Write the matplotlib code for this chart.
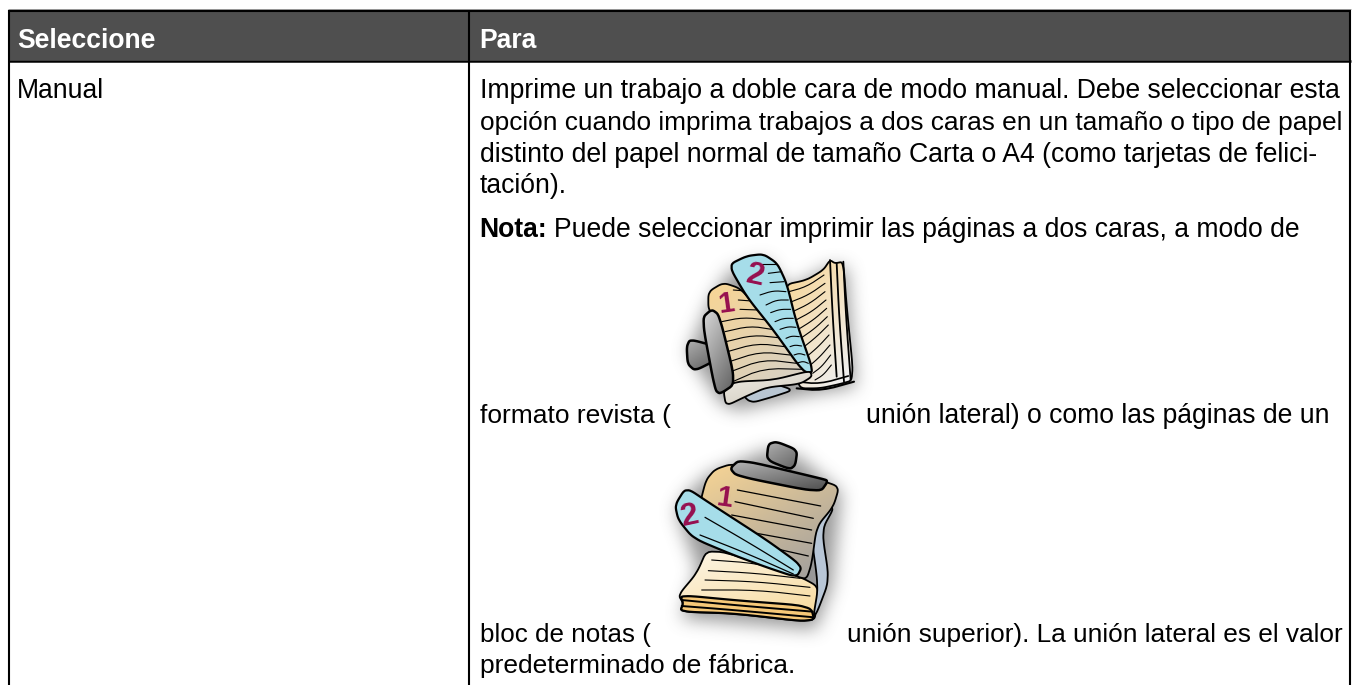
import matplotlib
matplotlib.use("Agg")
import matplotlib.pyplot as plt
from matplotlib.patches import Polygon, Rectangle
from matplotlib.path import Path
import numpy as np

plt.rcParams['font.family'] = ['Liberation Sans', 'DejaVu Sans']

encabezados = ["Seleccione", "Para"]
opcion = "Manual"
nota = "Nota:"
lineas = [
    "Imprime un trabajo a doble cara de modo manual. Debe seleccionar esta",
    "opción cuando imprima trabajos a dos caras en un tamaño o tipo de papel",
    "distinto del papel normal de tamaño Carta o A4 (como tarjetas de felici-",
    "tación).",
    "Puede seleccionar imprimir las páginas a dos caras, a modo de",
    "formato revista (",
    "unión lateral) o como las páginas de un",
    "bloc de notas (",
    "unión superior). La unión lateral es el valor",
    "predeterminado de fábrica.",
]

TAN = "#f8d594"
AZUL = "#a6dde9"
VINO = "#960f4f"
FS = 19.1

# donde va cada linea de texto: x, linea base, tamano
pos_lineas = [(480, 98, 19.15), (480, 130, 18.9), (480, 162, 19.15), (480, 193, 19.1),
              (554, 237, 19.1), (480, 423, 19.0), (866, 423, 19.1), (480, 642, 18.7),
              (847, 642, 18.87), (480, 673, 19.0)]

fig = plt.figure(figsize=(13.54, 6.85), dpi=100)
ax = fig.add_axes([0, 0, 1, 1])
ax.set_xlim(0, 1354)
ax.set_ylim(685, 0)
ax.axis("off")


def suave(puntos, veces=3, c=0.18):
    # recorta esquinas para que el contorno quede curvo
    p = np.array(puntos, dtype=float)
    for _ in range(veces):
        q = (1 - c) * p + c * np.roll(p, -1, axis=0)
        r = c * p + (1 - c) * np.roll(p, -1, axis=0)
        p = np.stack([q, r], axis=1).reshape(-1, 2)
    return p


def a_pix(puntos, org):
    return [(org[0] + x / 3, org[1] + y / 3) for x, y in puntos]


def sombra(puntos, org, dx=1, dy=6, radio=8, alfa=0.7):
    p = np.array(a_pix(puntos, org)) + [dx, dy]
    m = radio * 4
    x0, x1 = int(p[:, 0].min() - m), int(p[:, 0].max() + m)
    y0, y1 = int(p[:, 1].min() - m), int(p[:, 1].max() + m)
    xx, yy = np.meshgrid(np.arange(x0, x1), np.arange(y0, y1))
    mask = Path(p).contains_points(np.c_[xx.ravel(), yy.ravel()]).reshape(xx.shape).astype(float)
    k = np.ones(2 * radio + 1) / (2 * radio + 1)
    for _ in range(3):
        mask = np.apply_along_axis(lambda f: np.convolve(f, k, mode="same"), 0, mask)
        mask = np.apply_along_axis(lambda f: np.convolve(f, k, mode="same"), 1, mask)
    img = np.zeros(mask.shape + (4,))
    img[..., :3] = 0.42
    img[..., 3] = mask * alfa
    ax.imshow(img, extent=(x0, x1, y1, y0), aspect="auto", zorder=2.5, interpolation="bilinear")


def forma(puntos, org, colores, lw=1.3, z=3):
    p = suave(a_pix(puntos, org))
    if isinstance(colores, str):
        ax.add_patch(Polygon(p, closed=True, fc=colores, ec="black", lw=lw, zorder=z))
        return
    # degradado recortado con el contorno
    x0, x1 = p[:, 0].min(), p[:, 0].max()
    y0, y1 = p[:, 1].min(), p[:, 1].max()
    c1 = np.array(matplotlib.colors.to_rgb(colores[0]))
    c2 = np.array(matplotlib.colors.to_rgb(colores[1]))
    t = np.linspace(0, 1, 80)[:, None, None]
    s = np.linspace(0, 1, 80)[None, :, None]
    img = c1 + (c2 - c1) * (0.6 * t + 0.4 * s)
    im = ax.imshow(img, extent=(x0, x1, y1, y0), aspect="auto", zorder=z)
    pg = Polygon(p, closed=True, fc="none", ec="black", lw=lw, zorder=z + 0.1)
    ax.add_patch(pg)
    im.set_clip_path(pg)


def raya(puntos, org, lw=0.8, z=4, color="black"):
    p = np.array(a_pix(puntos, org))
    for _ in range(2):
        nuevo = [p[0]]
        for a, b in zip(p[:-1], p[1:]):
            nuevo += [0.75 * a + 0.25 * b, 0.25 * a + 0.75 * b]
        nuevo.append(p[-1])
        p = np.array(nuevo)
    ax.plot(p[:, 0], p[:, 1], color=color, lw=lw, solid_capstyle="round", zorder=z)


# ---- tabla
ax.add_patch(Rectangle((8, 10), 1342, 50, fc="#4f4f4f", ec="none", zorder=1))
ax.plot([8, 1351], [9.3, 9.3], color="#9a9a9a", lw=0.7, zorder=2, solid_capstyle="butt")
ax.plot([8, 1351], [11, 11], color="black", lw=1.5, zorder=2, solid_capstyle="butt")
ax.plot([8, 1351], [60.5, 60.5], color="black", lw=1.8, zorder=2, solid_capstyle="butt")
for xl in [8.5, 468.5, 1350]:
    ax.plot([xl, xl], [10, 685], color="black", lw=1.5, zorder=2, solid_capstyle="butt")

ax.text(17, 47.5, encabezados[0], color="white", fontsize=FS, weight="bold", va="baseline")
ax.text(479, 47.5, encabezados[1], color="white", fontsize=FS, weight="bold", va="baseline")
ax.text(17, 98, opcion, color="black", fontsize=FS, va="baseline")
ax.text(479, 237, nota, color="black", fontsize=FS, weight="bold", va="baseline")
for txt, (x, y, fs) in zip(lineas, pos_lineas):
    ax.text(x, y, txt, color="black", fontsize=fs, va="baseline")

# ---- revista (union lateral)
o1 = (640, 240)
sombra([(140, 320), (210, 160), (265, 75), (370, 42), (440, 130), (570, 60), (615, 65), (642, 420),
        (490, 445), (290, 490), (240, 470)], o1)
forma([(430, 135), (500, 120), (550, 90), (570, 60), (585, 70), (610, 65), (620, 200), (642, 420),
       (600, 432), (540, 445), (470, 445), (470, 300)], o1, (TAN, "#eef1f8"), z=3)
for l in [[(570, 60), (578, 230), (590, 410)], [(590, 70), (598, 240), (612, 425)], [(610, 65), (618, 230), (632, 420)]]:
    raya(l, o1, lw=1.3)
raya([(470, 425), (540, 432), (625, 408)], o1, lw=1.2)
raya([(470, 445), (545, 452), (642, 425)], o1, lw=1.5)
for l in [[(440, 157), (500, 140), (552, 105)], [(450, 187), (505, 165), (555, 130)],
          [(460, 214), (510, 190), (555, 155)], [(468, 240), (515, 215), (558, 180)],
          [(475, 268), (520, 240), (560, 205)], [(482, 295), (525, 265), (562, 230)],
          [(490, 322), (530, 290), (565, 255)], [(500, 350), (535, 320), (567, 285)],
          [(508, 378), (540, 350), (570, 315)], [(518, 400), (545, 380), (572, 345)],
          [(525, 420), (550, 405), (574, 375)]]:
    raya(l, o1)
forma([(290, 440), (400, 430), (460, 450), (400, 470), (330, 490)], o1, "#b9c6d2", z=4)
forma([(205, 155), (250, 128), (300, 145), (345, 195), (400, 260), (500, 392), (512, 405), (480, 422),
       (400, 425), (340, 442), (290, 470), (265, 470), (250, 440), (240, 250), (205, 210)], o1,
      (TAN, "#d2d0cc"), z=5)
for l in [[(280, 150), (305, 152)], [(295, 180), (335, 183)], [(300, 208), (355, 210)],
          [(245, 245), (310, 232), (380, 240)], [(255, 275), (330, 258), (395, 268)],
          [(258, 305), (340, 285), (415, 293)], [(262, 335), (350, 310), (435, 320)],
          [(268, 365), (360, 335), (450, 345)], [(272, 395), (370, 358), (470, 370)],
          [(278, 425), (370, 385), (490, 388)]]:
    raya(l, o1, z=6)
ax.text(*a_pix([(258, 219)], o1)[0], "1", color=VINO, fontsize=21, weight="bold", ha="center",
        va="baseline", rotation=8, zorder=7)
forma([(265, 75), (320, 48), (370, 42), (412, 70), (440, 130), (470, 250), (522, 398), (490, 396),
       (400, 270), (320, 170)], o1, AZUL, lw=1.6, z=8)
for l in [[(365, 72), (412, 72)], [(385, 100), (425, 95)], [(390, 128), (432, 125)],
          [(360, 165), (400, 152), (438, 155)], [(378, 195), (410, 180), (445, 180)],
          [(392, 218), (420, 208), (452, 208)], [(405, 245), (430, 235), (460, 235)],
          [(420, 268), (445, 260), (468, 262)], [(438, 295), (455, 288), (478, 290)],
          [(450, 320), (465, 315), (485, 318)], [(462, 345), (478, 340), (495, 345)],
          [(475, 368), (490, 364), (505, 370)]]:
    raya(l, o1, z=9)
ax.text(*a_pix([(345, 137)], o1)[0], "2", color=VINO, fontsize=23, weight="bold", ha="center",
        va="baseline", rotation=-12, zorder=10)
forma([(250, 450), (285, 425), (400, 420), (510, 392), (516, 410), (480, 432), (380, 442), (320, 468),
       (258, 498)], o1, ("#efece4", "#cfc9bd"), z=11)
forma([(140, 320), (150, 298), (225, 318), (225, 362), (165, 392), (143, 372)], o1, ("#b0b0b0", "#5f5f5f"),
      lw=1.8, z=12)
forma([(185, 235), (215, 208), (238, 225), (288, 430), (240, 462), (225, 450)], o1, ("#d8d8d8", "#5f5f5f"),
      lw=1.8, z=13)

# ---- bloc de notas (union superior)
o2 = (600, 430)
sombra([(225, 225), (258, 172), (320, 115), (500, 40), (590, 60), (718, 170), (690, 450), (642, 578),
        (240, 545), (290, 400)], o2)
forma([(325, 350), (600, 440), (655, 470), (650, 530), (642, 578), (400, 550), (240, 545), (250, 520),
       (235, 495), (290, 430)], o2, ("#fdf6e6", "#f8d99a"), z=3)
forma([(240, 495), (420, 512), (632, 528), (645, 578), (400, 550), (240, 545), (250, 520)], o2, "#f6c878", z=3.5, lw=1.6)
for l in [[(245, 510), (400, 525), (638, 545)], [(245, 528), (400, 540), (642, 562)]]:
    raya(l, o2, lw=1.4)
for l in [[(335, 390), (470, 400), (590, 430)], [(325, 422), (470, 430), (600, 445)],
          [(315, 450), (470, 455), (630, 472)], [(305, 480), (470, 480), (630, 498)]]:
    raya(l, o2, z=3.4)
forma([(650, 240), (705, 228), (665, 300), (688, 450), (652, 545), (640, 560), (655, 470), (630, 290)], o2,
      "#b8c6d6", z=4)
forma([(345, 118), (400, 100), (660, 150), (718, 170), (700, 230), (650, 290), (635, 400), (620, 447),
       (590, 440), (320, 290), (300, 220), (318, 150)], o2, (TAN, "#9c9c9f"), z=5)
for l in [[(412, 180), (662, 228)], [(405, 215), (640, 265)], [(395, 255), (635, 300)],
          [(470, 310), (635, 340)], [(500, 350), (625, 378)]]:
    raya(l, o2, lw=0.9, z=6)
ax.text(*a_pix([(372, 232)], o2)[0], "1", color=VINO, fontsize=21, weight="bold", ha="center",
        va="baseline", rotation=-8, zorder=7)
forma([(258, 172), (330, 220), (500, 330), (607, 408), (590, 442), (500, 412), (400, 375), (280, 325),
       (235, 270), (225, 225)], o2, AZUL, lw=1.6, z=8)
for l in [[(315, 262), (450, 340), (580, 420)], [(300, 315), (440, 370), (580, 432)]]:
    raya(l, o2, lw=0.9, z=9)
ax.text(*a_pix([(270, 289)], o2)[0], "2", color=VINO, fontsize=23, weight="bold", ha="center",
        va="baseline", rotation=12, zorder=10)
forma([(500, 90), (505, 42), (530, 35), (592, 60), (586, 105), (570, 118)], o2, ("#b0b0b0", "#666666"),
      lw=1.8, z=11)
forma([(390, 115), (420, 88), (660, 145), (685, 152), (660, 188), (410, 138)], o2, ("#b5b5b5", "#505050"),
      lw=1.8, z=12)

ax.set_xlim(0, 1354)
ax.set_ylim(685, 0)
fig.savefig("out.png", dpi=100)
